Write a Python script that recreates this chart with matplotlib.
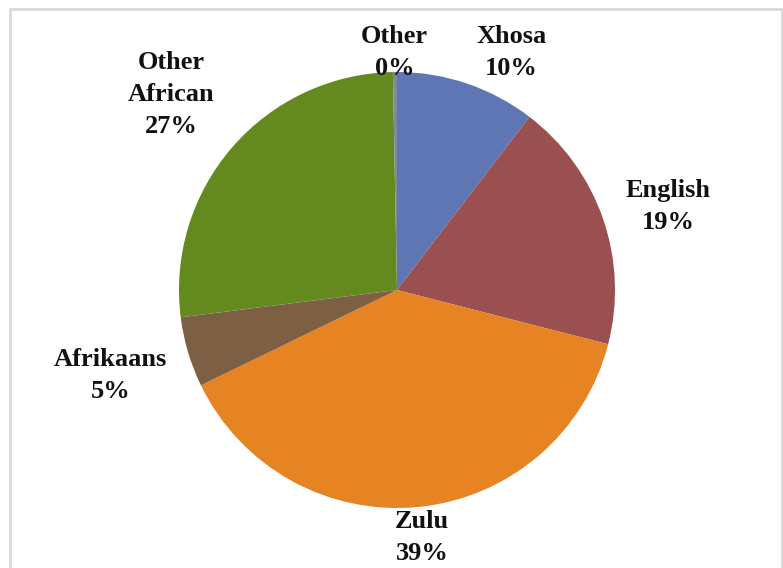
"""Home language distribution pie chart (Excel-style)."""
import numpy as np
import matplotlib
matplotlib.use("Agg")
import matplotlib.pyplot as plt
from matplotlib.patches import Rectangle

# data, clockwise from 12 o'clock
LANGS = ["Xhosa", "English", "Zulu", "Afrikaans", "Other\nAfrican", "Other"]
SHARE = [10.4, 18.6, 38.8, 5.2, 26.7, 0.3]
COLORS = ["#5E76B4", "#9A4F51", "#E68323", "#7D5F44", "#64891F", "#7F8A9A"]

# label placement (radius in units of pie radius, angle nudge in degrees)
LAB_R = [1.21, 1.30, 1.14, 1.37, 1.37, 1.09]
LAB_NUDGE = [-7, -2, 0, 0, 0, 0]

plt.rcParams["font.family"] = ["Liberation Serif", "DejaVu Serif"]

fig = plt.figure(figsize=(7.83, 5.68), dpi=100)
ax = fig.add_axes([397 / 783 - 0.3, 1 - 508 / 568, 0.6, 436 / 568])

wedges, _ = ax.pie(SHARE, colors=COLORS, startangle=90, counterclock=False,
                   radius=1.0, wedgeprops=dict(linewidth=0))
ax.set_aspect("equal")
ax.set_xlim(-1, 1)
ax.set_ylim(-1, 1)
ax.axis("off")

for w, name, v, r, nud in zip(wedges, LANGS, SHARE, LAB_R, LAB_NUDGE):
    mid = np.deg2rad((w.theta1 + w.theta2) / 2 + nud)
    ax.text(r * np.cos(mid), r * np.sin(mid), f"{name}\n{v:.0f}%",
            ha="center", va="center", fontsize=19, fontweight="bold",
            linespacing=1.5, color="#111111", clip_on=False)

# chart-area border
fig.patches.append(Rectangle((10 / 783, -0.1), (782 - 10) / 783, 1.1 - 9 / 568,
                             transform=fig.transFigure, fill=False,
                             edgecolor="#D9D9D9", linewidth=2))

fig.savefig("out.png", dpi=100)
